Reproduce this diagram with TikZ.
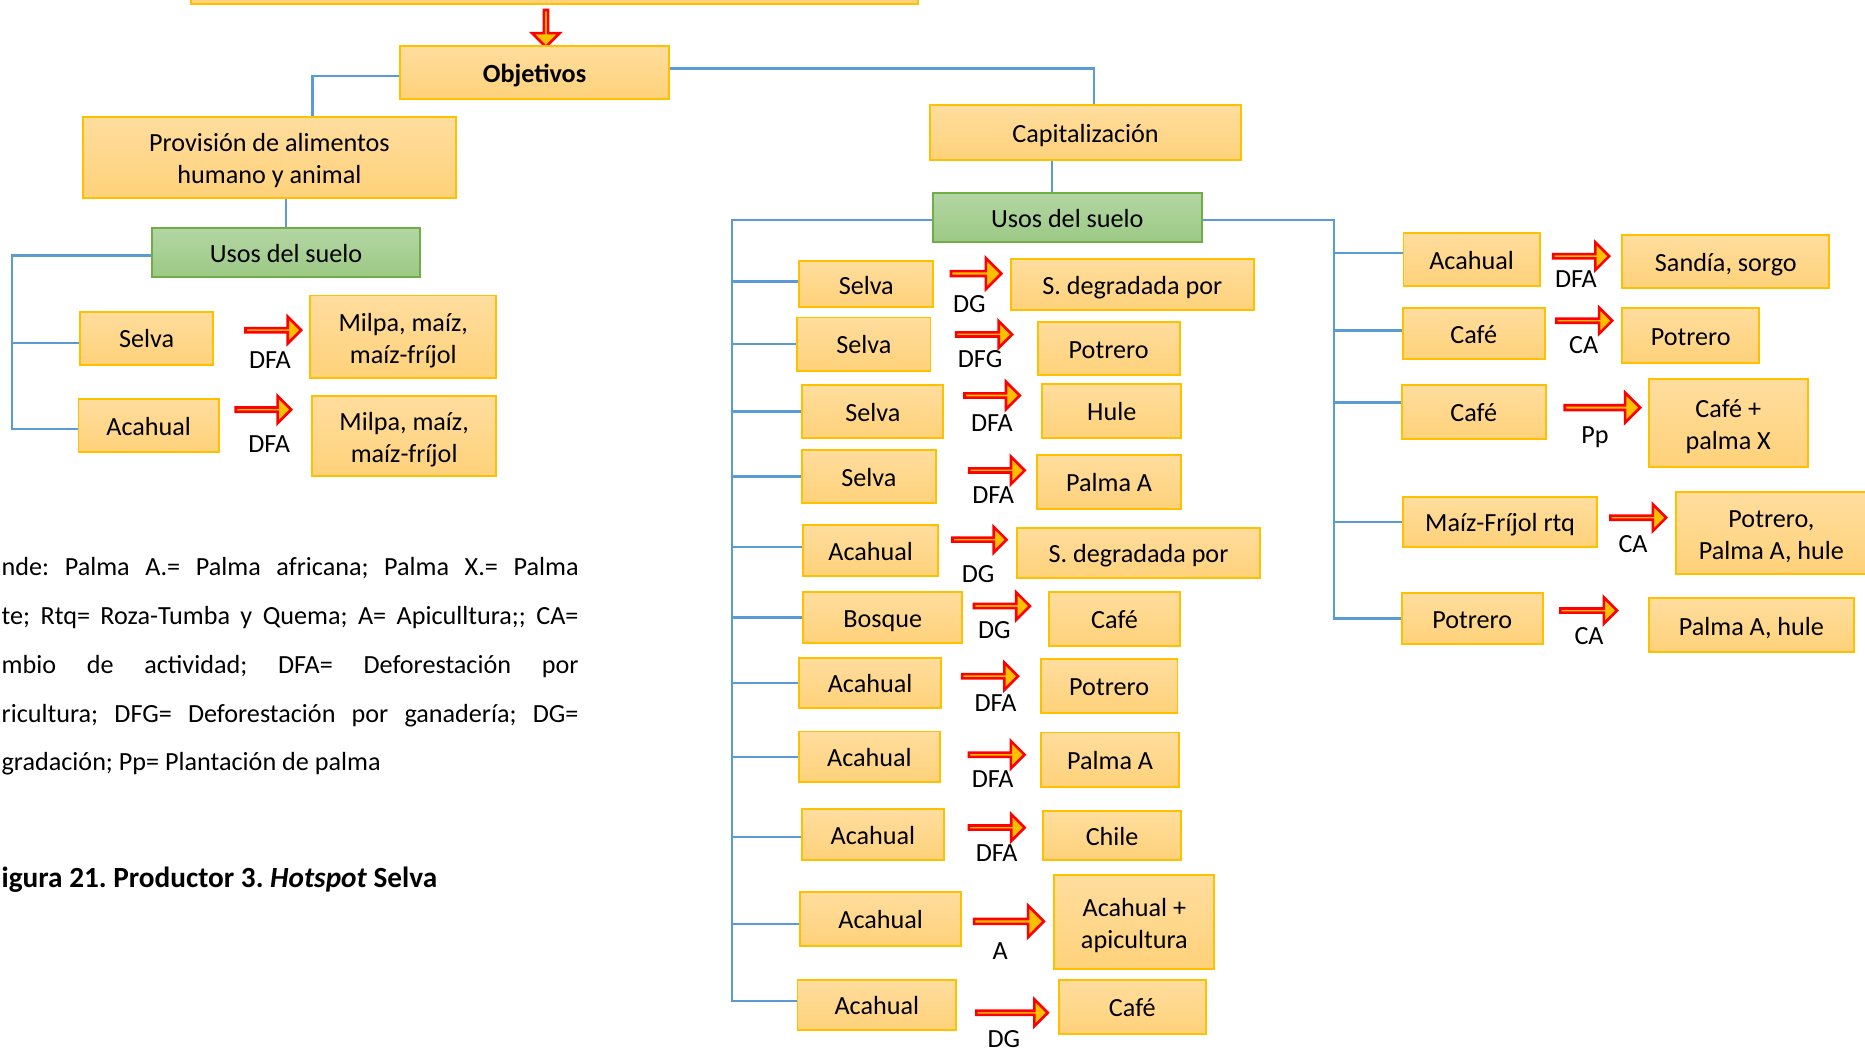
\documentclass[tikz,border=0pt]{standalone}
\usepackage{fontspec}
\setmainfont{Carlito}
\usetikzlibrary{shapes.arrows}
\definecolor{boxtop}{HTML}{FFDD9E}
\definecolor{boxbot}{HTML}{FFD27A}
\definecolor{boxline}{HTML}{FFC000}
\definecolor{greentop}{HTML}{B3D6A3}
\definecolor{greenbot}{HTML}{9CC985}
\definecolor{greenline}{HTML}{70AD47}
\definecolor{connblue}{HTML}{5B9BD5}
\definecolor{arrowfill}{HTML}{FFC000}
\definecolor{arrowred}{HTML}{FF0000}
% two lines in a box, set as in the word processor
\newcommand\twolines[2]{\rule{0pt}{11pt}#1\\#2\rule[-2.4pt]{0pt}{2.4pt}}

\begin{document}
\frenchspacing
\begin{tikzpicture}[x=0.5pt, y=-0.5pt,
    every node/.style={font=\fontsize{11}{13.5}\selectfont},
    boxbase/.style={draw=boxline, line width=0.8pt, top color=boxtop, bottom color=boxbot, inner sep=0pt, align=center},
    box/.style={boxbase, text height=8.6pt, text depth=0.4pt},
    boxtwo/.style={boxbase},
    usos/.style={draw=greenline, line width=0.8pt, top color=greentop, bottom color=greenbot, inner sep=0pt, text height=8.6pt, text depth=0.4pt},
    conn/.style={draw=connblue, line width=1pt},
    blockarr/.style={single arrow, draw=arrowred, fill=arrowfill, line width=1.1pt, inner sep=0pt, single arrow head extend=3pt, single arrow tip angle=90},
    lbl/.style={inner sep=0pt, text height=8pt, text depth=0.9pt}
  ]
    \useasboundingbox (0,0) rectangle (1568,885.3);
    \clip (0,0) rectangle (1568,885.3);

    % top of the tree
    \node[boxbase, minimum width=305.75pt, minimum height=30pt] (top) at (466.25,-27) {};
    \node[blockarr, shape border rotate=270, minimum height=15.5pt, minimum width=11.5pt] (down) at (459,23) {};
    \node[box, minimum width=112.8pt, minimum height=22pt] (obj) at (449.4,61) {\textbf{Objetivos}};
    \node[boxtwo, minimum width=157pt, minimum height=34.2pt] (prov) at (226.5,132.2) {\twolines{Provisión de alimentos}{humano y animal}};
    \node[box, minimum width=130.5pt, minimum height=23.1pt] (cap) at (912.7,111.7) {Capitalización};
    \node[usos, minimum width=112.5pt, minimum height=20.3pt] (usosA) at (240.5,212.3) {Usos del suelo};
    \node[usos, minimum width=112.9pt, minimum height=20.7pt] (usosB) at (897.3,182.7) {Usos del suelo};

    \draw[conn] ([yshift=-1.5pt]obj.west) -| ([xshift=18.1pt]prov.north);
    \draw[conn] ([yshift=1.75pt]obj.east) -| ([xshift=3.5pt]cap.north);
    \draw[conn] (usosA.north) -- (usosA.north |- prov.south);
    \draw[conn] ([xshift=-6.5pt]usosB.north) -- ([xshift=-6.5pt]usosB.north |- cap.south);

    % provision de alimentos
    \node[box, minimum width=55.7pt, minimum height=22.3pt] (l1) at (123.3,284.3) {Selva};
    \node[blockarr, minimum height=23.4pt, minimum width=11.2pt] (l1a) at (228.9,277.6) {};
    \node[lbl] (l1l) at (227,302.4) {DFA};
    \node[boxtwo, minimum width=78.2pt, minimum height=34.8pt] (l1t) at (339,283.2) {\twolines{Milpa, maíz,}{maíz-fríjol}};
    \node[box, minimum width=59pt, minimum height=22.3pt] (l2) at (125,357.7) {Acahual};
    \node[blockarr, minimum height=23.3pt, minimum width=11.4pt] (l2a) at (220.6,344.4) {};
    \node[lbl] (l2l) at (226.3,373.5) {DFA};
    \node[boxtwo, minimum width=77.5pt, minimum height=33.5pt] (l2t) at (339.8,366.8) {\twolines{Milpa, maíz,}{maíz-fríjol}};

    \coordinate (trunkA) at (10,0);
    \draw[conn] ([yshift=-1.3pt]usosA.west) -| ([yshift=-1.6pt]trunkA |- l2.west) -- ([yshift=-1.6pt]l2.west);
    \draw[conn] ([yshift=-2pt]trunkA |- l1.west) -- ([yshift=-2pt]l1.west);

    % capitalizacion, izquierda
    \node[box, minimum width=56.3pt, minimum height=19.3pt] (m1) at (728.3,239) {Selva};
    \node[blockarr, minimum height=21.2pt, minimum width=13pt] (m1a) at (819.7,230) {};
    \node[lbl] (m1l) at (815,256) {DG};
    \node[box, minimum width=102pt, minimum height=21.3pt] (m1t) at (952,239.3) {S. degradada por};

    \node[box, minimum width=56pt, minimum height=22.4pt] (m2) at (726.3,289.3) {Selva};
    \node[blockarr, minimum height=23.5pt, minimum width=11.2pt] (m2a) at (826.5,281.2) {};
    \node[lbl] (m2l) at (824,302) {DFG};
    \node[box, minimum width=59.6pt, minimum height=22.5pt] (m2t) at (932.1,293) {Potrero};

    \node[box, minimum width=59.2pt, minimum height=22.2pt] (m3) at (733.8,345.8) {Selva};
    \node[blockarr, minimum height=23.2pt, minimum width=11.5pt] (m3a) at (833.2,332.5) {};
    \node[lbl] (m3l) at (834,356) {DFA};
    \node[box, minimum width=58.3pt, minimum height=22.5pt] (m3t) at (934.7,345.5) {Hule};

    \node[box, minimum width=56.5pt, minimum height=22.5pt] (m4) at (730.5,400.5) {Selva};
    \node[blockarr, minimum height=23.3pt, minimum width=11.5pt] (m4a) at (837.3,395.5) {};
    \node[lbl] (m4l) at (835,416) {DFA};
    \node[box, minimum width=60.5pt, minimum height=22.4pt] (m4t) at (932.5,405.2) {Palma A};

    \node[box, minimum width=56.6pt, minimum height=21.5pt] (m5) at (732,463) {Acahual};
    \node[blockarr, minimum height=22.7pt, minimum width=10.7pt] (m5a) at (822.7,453.7) {};
    \node[lbl] (m5l) at (822.4,483) {DG};
    \node[box, minimum width=102.2pt, minimum height=21.2pt] (m5t) at (957.2,465) {S. degradada por};

    \node[box, minimum width=66.8pt, minimum height=21.2pt] (m6) at (742.2,519.2) {Bosque};
    \node[blockarr, minimum height=23.5pt, minimum width=11.5pt] (m6a) at (841.5,509.5) {};
    \node[lbl] (m6l) at (836,529.5) {DG};
    \node[box, minimum width=55pt, minimum height=22.5pt] (m6t) at (937,520.5) {Café};

    \node[box, minimum width=59.5pt, minimum height=21.3pt] (m7) at (731.5,574.3) {Acahual};
    \node[blockarr, minimum height=23.5pt, minimum width=11.5pt] (m7a) at (831.5,568.5) {};
    \node[lbl] (m7l) at (837,591) {DFA};
    \node[box, minimum width=57.5pt, minimum height=22.8pt] (m7t) at (932.5,576.6) {Potrero};

    \node[box, minimum width=59.5pt, minimum height=21.3pt] (m8) at (731,636.3) {Acahual};
    \node[blockarr, minimum height=23.4pt, minimum width=11.5pt] (m8a) at (837.1,634.5) {};
    \node[lbl] (m8l) at (834.6,654.6) {DFA};
    \node[box, minimum width=58.3pt, minimum height=22.9pt] (m8t) at (933.3,638.7) {Palma A};

    \node[box, minimum width=59.5pt, minimum height=21.5pt] (m9) at (733.9,701.9) {Acahual};
    \node[blockarr, minimum height=23.4pt, minimum width=11.2pt] (m9a) at (837.1,695.8) {};
    \node[lbl] (m9l) at (838,717.5) {DFA};
    \node[box, minimum width=58pt, minimum height=20.5pt] (m9t) at (935,702.5) {Chile};

    \node[box, minimum width=67.6pt, minimum height=22.5pt] (m10) at (740.4,772.5) {Acahual};
    \node[blockarr, minimum height=29.3pt, minimum width=13.2pt] (m10a) at (847.3,774.7) {};
    \node[lbl] (m10l) at (841,799.3) {A};
    \node[boxtwo, minimum width=67.3pt, minimum height=39.3pt] (m10t) at (953.7,775.3) {\twolines{Acahual +}{apicultura}};

    \node[box, minimum width=66.7pt, minimum height=21pt] (m11) at (737.2,845) {Acahual};
    \node[blockarr, minimum height=30pt, minimum width=11.2pt] (m11a) at (850,851.5) {};
    \node[lbl] (m11l) at (844,873.5) {DG};
    \node[box, minimum width=62pt, minimum height=22.8pt] (m11t) at (952,846.8) {Café};

    \coordinate (trunkB) at (615.3,0);
    \draw[conn] ([yshift=-1pt]usosB.west) -| ([yshift=1.8pt]trunkB |- m11.west) -- ([yshift=1.8pt]m11.west);
    \draw[conn] ([yshift=1.1pt]trunkB |- m1.west) -- ([yshift=1.1pt]m1.west);
    \draw[conn] (trunkB |- m2.west) -- (m2.west);
    \draw[conn] (trunkB |- m3.west) -- (m3.west);
    \draw[conn] (trunkB |- m4.west) -- (m4.west);
    \draw[conn] ([yshift=1.6pt]trunkB |- m5.west) -- ([yshift=1.6pt]m5.west);
    \draw[conn] (trunkB |- m6.west) -- (m6.west);
    \draw[conn] (trunkB |- m7.west) -- (m7.west);
    \draw[conn] (trunkB |- m8.west) -- (m8.west);
    \draw[conn] ([yshift=-1pt]trunkB |- m9.west) -- ([yshift=-1pt]m9.west);
    \draw[conn] ([yshift=-2.2pt]trunkB |- m10.west) -- ([yshift=-2.2pt]m10.west);

    % capitalizacion, derecha
    \node[box, minimum width=57.2pt, minimum height=22.5pt] (r1) at (1237.2,218.3) {Acahual};
    \node[blockarr, minimum height=23.5pt, minimum width=11.6pt] (r1a) at (1328.5,215.4) {};
    \node[lbl] (r1l) at (1325,235) {DFA};
    \node[box, minimum width=87pt, minimum height=22.5pt] (r1t) at (1451,220) {Sandía, sorgo};

    \node[box, minimum width=59.6pt, minimum height=21.3pt] (r2) at (1239,280.3) {Café};
    \node[blockarr, minimum height=23.5pt, minimum width=11pt] (r2a) at (1331.1,269.6) {};
    \node[lbl] (r2l) at (1331.5,289.7) {CA};
    \node[box, minimum width=57.5pt, minimum height=23pt] (r2t) at (1421.5,282) {Potrero};

    \node[box, minimum width=60.6pt, minimum height=22.4pt] (r3) at (1239,346.3) {Café};
    \node[blockarr, minimum height=31.7pt, minimum width=12.7pt] (r3a) at (1346.3,342.7) {};
    \node[lbl] (r3l) at (1341,366) {Pp};
    \node[boxtwo, minimum width=67pt, minimum height=37pt] (r3t) at (1453,355.8) {\twolines{Café +}{palma X}};

    \node[box, minimum width=81.8pt, minimum height=21.2pt] (r4) at (1261.2,438.7) {Maíz-Fríjol rtq};
    \node[blockarr, minimum height=23.5pt, minimum width=11.2pt] (r4a) at (1376.5,435.2) {};
    \node[lbl] (r4l) at (1373,457.3) {CA};
    \node[boxtwo, minimum width=80pt, minimum height=34.2pt] (r4t) at (1489.3,448.2) {\twolines{Potrero,}{Palma A, hule}};

    \node[box, minimum width=59.4pt, minimum height=21.3pt] (r5) at (1237.8,520.1) {Potrero};
    \node[blockarr, minimum height=23.8pt, minimum width=11pt] (r5a) at (1334.8,513.3) {};
    \node[lbl] (r5l) at (1336,534.4) {CA};
    \node[box, minimum width=86.5pt, minimum height=22.7pt] (r5t) at (1472.5,525.7) {Palma A, hule};

    \coordinate (trunkC) at (1121.7,0);
    \draw[conn] ([yshift=-1pt]usosB.east) -| (trunkC |- r5.west) -- (r5.west);
    \draw[conn] ([yshift=2.8pt]trunkC |- r1.west) -- ([yshift=2.8pt]r1.west);
    \draw[conn] ([yshift=1.2pt]trunkC |- r2.west) -- ([yshift=1.2pt]r2.west);
    \draw[conn] ([yshift=3.9pt]trunkC |- r3.west) -- ([yshift=3.9pt]r3.west);
    \draw[conn] (trunkC |- r4.west) -- (r4.west);

    % leyenda
    \node[lbl, anchor=west] (leg1) at (1,477) {\makebox[242.5pt][s]{nde: Palma A.= Palma africana; Palma X.= Palma}};
    \node[lbl, anchor=west] (leg2) at (1,518) {\makebox[242.5pt][s]{te; Rtq= Roza-Tumba y Quema; A= Apiculltura;; CA=}};
    \node[lbl, anchor=west] (leg3) at (1,559) {\makebox[242.5pt][s]{mbio de actividad; DFA= Deforestación por}};
    \node[lbl, anchor=west] (leg4) at (1,600) {\makebox[242.5pt][s]{ricultura; DFG= Deforestación por ganadería; DG=}};
    \node[lbl, anchor=west] (leg5) at (1,641) {gradación; Pp= Plantación de palma};
    \node[lbl, anchor=west, font=\fontsize{12.3}{14}\selectfont\bfseries] (fig) at (1,739) {igura 21. Productor 3. \textit{Hotspot} Selva};
\end{tikzpicture}
\end{document}
